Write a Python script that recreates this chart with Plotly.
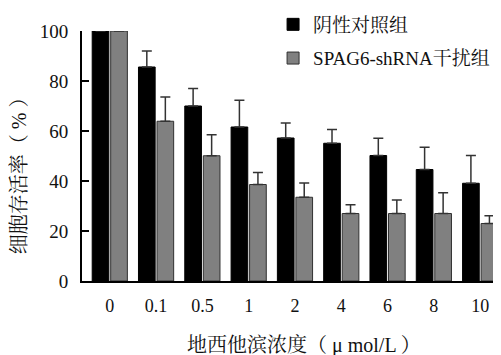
import plotly.graph_objects as go

categories = ["0", "0.1", "0.5", "1", "2", "4", "6", "8", "10"]
control_values = [100, 85.6, 70.0, 61.6, 57.2, 55.1, 50.2, 44.6, 39.1]
control_errors = [None, 6.4, 7.0, 10.7, 6.0, 5.5, 6.9, 8.9, 11.1]
shrna_values = [100, 63.9, 50.1, 38.6, 33.5, 27.0, 27.0, 27.0, 23.0]
shrna_errors = [None, 9.7, 8.4, 4.8, 5.7, 3.5, 5.4, 8.3, 3.1]
series_names = ["阴性对照组", "SPAG6-shRNA干扰组"]
x_title = "地西他滨浓度（ μ mol/L ）"
y_title = "细胞存活率（ % ）"

FONT = "Times New Roman, Liberation Serif, Noto Serif CJK SC, Noto Sans CJK SC, serif"

fig = go.Figure()
fig.add_trace(go.Bar(
    x=categories, y=control_values, name=series_names[0], legendgroup="a",
    marker=dict(color="#000000", line=dict(color="#000000", width=1)),
    error_y=dict(type="data", symmetric=False, array=control_errors,
                 arrayminus=[0] * len(categories), color="#333333", thickness=1.5, width=5),
))
fig.add_trace(go.Bar(
    x=categories, y=shrna_values, name=series_names[1], legendgroup="b",
    marker=dict(color="#808080", line=dict(color="#303030", width=1)),
    error_y=dict(type="data", symmetric=False, array=shrna_errors,
                 arrayminus=[0] * len(categories), color="#333333", thickness=1.5, width=5),
))

# the page body has an 8px default margin, so the figure is sized to the visible area
fig.update_layout(
    width=493, height=347,
    margin=dict(l=74, r=0, t=23, b=74, autoexpand=False),
    paper_bgcolor="white", plot_bgcolor="white",
    barmode="group", bargap=0.2, bargroupgap=0.1,
    font=dict(family=FONT, size=19, color="#111111"),
    showlegend=True,
    legend=dict(x=0.456, y=1.102, xanchor="left", yanchor="top",
                font=dict(family=FONT, size=19, color="#111111"),
                tracegroupgap=6, bgcolor="rgba(0,0,0,0)"),
    annotations=[
        dict(text=x_title, xref="paper", yref="paper", x=0.53, y=-0.256,
             xanchor="center", yanchor="middle", showarrow=False,
             font=dict(family=FONT, size=20, color="#111111")),
        dict(text=y_title, xref="paper", yref="paper", x=-0.150, y=0.44,
             xanchor="center", yanchor="middle", showarrow=False, textangle=-90,
             font=dict(family=FONT, size=20, color="#111111")),
    ],
)
fig.update_xaxes(
    type="category", range=[-0.6, 8.45],
    showline=True, linecolor="#000000", linewidth=2,
    ticks="outside", ticklen=7, tickcolor="rgba(0,0,0,0)",
    showgrid=False, zeroline=False,
    tickfont=dict(family=FONT, size=18),
    automargin=False,
)
fig.update_yaxes(
    range=[0, 100], tickvals=[0, 20, 40, 60, 80, 100],
    showline=True, linecolor="#000000", linewidth=2,
    ticks="inside", ticklen=7, tickwidth=2, tickcolor="#000000",
    showgrid=False, zeroline=False,
    tickfont=dict(family=FONT, size=19), ticklabelstandoff=8,
    automargin=False,
)

fig.write_html("out.html")
